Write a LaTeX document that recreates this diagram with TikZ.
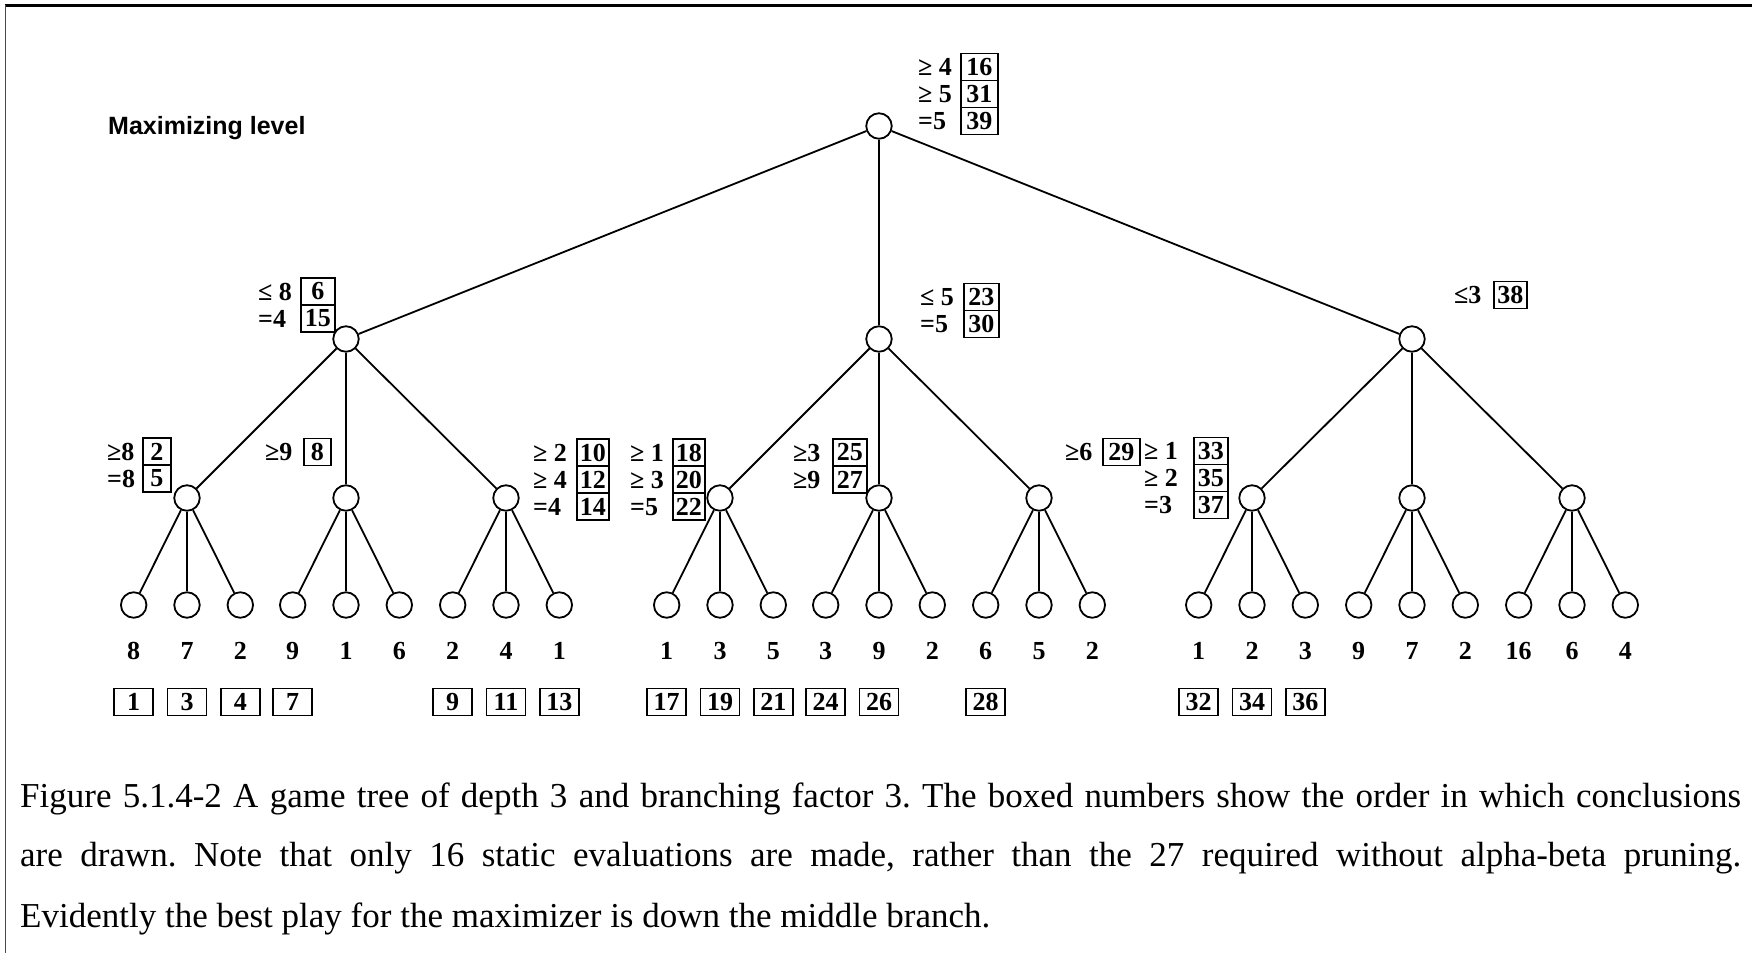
\documentclass[tikz,border=0pt]{standalone}
\usepackage{fontspec}
\setmainfont{Liberation Serif}
\newfontfamily\boldserif{Liberation Serif Bold}
\newfontfamily\headsans{Liberation Sans Bold}
\begin{document}
\frenchspacing
\begin{tikzpicture}[x=1pt,y=-1pt,
  vertex/.style={circle,draw,line width=1.8pt,minimum size=25.5pt,inner sep=0pt},
  edge/.style={line width=1.8pt},
  treefont/.style={font=\boldserif\fontsize{26}{30}\selectfont},
  obox/.style={treefont,draw,line width=1.6pt,minimum height=27pt,inner sep=0pt,anchor=west},
  leafbox/.style={obox,minimum width=39pt,anchor=center},
  reltext/.style={treefont,inner sep=0pt,text height=17pt,text depth=0pt,anchor=west},
  leafval/.style={font=\boldserif\fontsize{26}{30}\selectfont,inner sep=0pt},
  capline/.style={font=\fontsize{35}{40}\selectfont,inner sep=0pt,anchor=base west}]
\useasboundingbox (0,0) rectangle (1752,953);

% frame lines
\draw[line width=2.5pt] (5,5.5) -- (1752,5.5);
\draw[line width=1.5pt,black!70] (5.5,5) -- (5.5,953);

\node[font=\headsans\fontsize{25}{30}\selectfont,inner sep=0pt,anchor=west] (maxlevel) at (108,128) {Maximizing level};

% tree
\node[vertex] (R) at (879,126) {};
\foreach \n/\x in {A/346,B/879,C/1412}{
  \node[vertex] (\n) at (\x,339) {};
  \draw[edge] (R) -- (\n);
}
\foreach \p/\n/\x in {A/A1/187,A/A2/346,A/A3/506,B/B1/720,B/B2/879,B/B3/1039,C/C1/1252,C/C2/1412,C/C3/1572}{
  \node[vertex] (\n) at (\x,498) {};
  \draw[edge] (\p) -- (\n);
}
\foreach \n/\x/\va/\vb/\vc in {A1/187/8/7/2,A2/346/9/1/6,A3/506/2/4/1,
                               B1/720/1/3/5,B2/879/3/9/2,B3/1039/6/5/2,
                               C1/1252/1/2/3,C2/1412/9/7/2,C3/1572/16/6/4}{
  \foreach \k/\dx/\v in {1/-53.3/\va,2/0/\vb,3/53.3/\vc}{
    \node[vertex] (\n-\k) at ({\x+\dx},605) {};
    \draw[edge] (\n) -- (\n-\k);
    \node[leafval] (val-\n-\k) at ({\x+\dx},651) {\v};
  }
}

% order boxes under the leaves
\coordinate (boxrow) at (0,702);
\foreach \leaf/\num in {A1-1/1,A1-2/3,A1-3/4,A2-1/7,A3-1/9,A3-2/11,A3-3/13,
                        B1-1/17,B1-2/19,B1-3/21,B2-1/24,B2-2/26,B3-1/28,
                        C1-1/32,C1-2/34,C1-3/36}{
  \node[leafbox] (box\num) at (\leaf |- boxrow) {\num};
}

% bound labels: text x, box x, box width, row y, relation, order number
\foreach \tx/\bx/\w/\y/\rel/\num in {
   918/960/37/67/{≥ 4}/16, 918/960/37/94/{≥ 5}/31, 918/960/37/121/{=5}/39,
   258/300/34/291.5/{≤ 8}/6, 258/300/34/318.5/{=4}/15,
   920/963/35/297/{≤ 5}/23, 920/963/35/324/{=5}/30,
   1454/1493/33/295/{≤3}/38,
   107/142/28/451.5/{≥8}/2, 107/142/28/478.5/{=8}/5,
   265/303/27/452/{≥9}/8,
   533/576/32/452.5/{≥ 2}/10, 533/576/32/479.5/{≥ 4}/12, 533/576/32/506.5/{=4}/14,
   630/672/32/452.5/{≥ 1}/18, 630/672/32/479.5/{≥ 3}/20, 630/672/32/506.5/{=5}/22,
   793/832/34/452.5/{≥3}/25, 793/832/34/479.5/{≥9}/27,
   1065/1102/37/452/{≥6}/29,
   1144/1193/34/451/{≥ 1}/33, 1144/1193/34/478/{≥ 2}/35, 1144/1193/34/505/{=3}/37}{
  \node[obox,minimum width=\w pt] (box\num) at (\bx,\y) {\num};
  \node[reltext] (rel\num) at (\tx,\y) {\rel};
}

% caption
\node[capline] (cap1) at (20,807) {\makebox[1721pt][s]{Figure 5.1.4-2 A game tree of depth 3 and branching factor 3. The boxed numbers show the order in which conclusions}};
\node[capline] (cap2) at (20,866) {\makebox[1721pt][s]{are drawn. Note that only 16 static evaluations are made, rather than the 27 required without alpha-beta pruning.}};
\node[capline] (cap3) at (20,927) {Evidently the best play for the maximizer is down the middle branch.};
\end{tikzpicture}
\end{document}
